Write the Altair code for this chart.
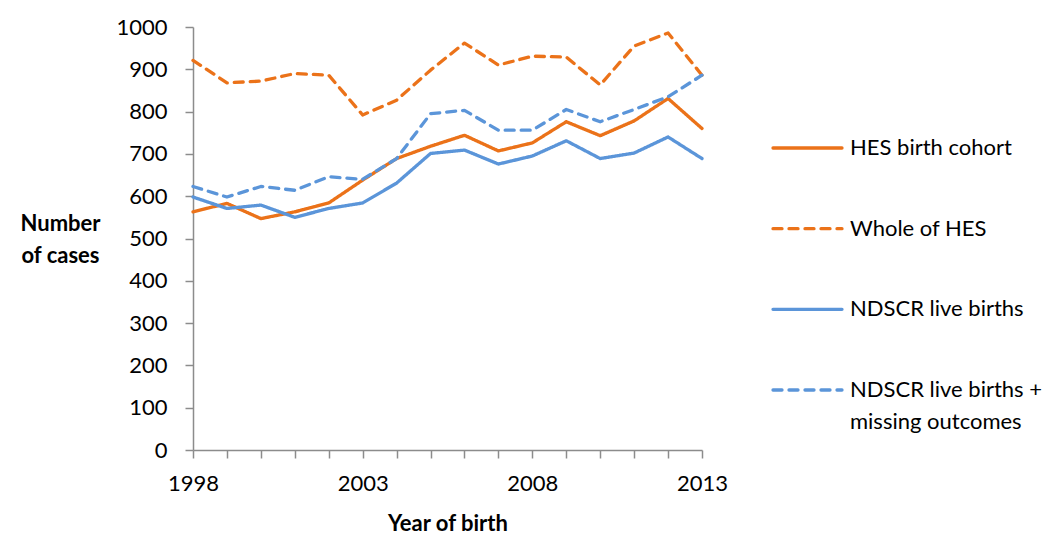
import altair as alt
import pandas as pd

# Annual case counts by year of birth, four data sources
years = list(range(1998, 2014))
hes_birth_cohort = [563, 583, 547, 563, 584, 638, 689, 718, 744, 707, 726, 776, 743, 778, 831, 760]
whole_of_hes = [921, 868, 872, 890, 886, 792, 827, 898, 962, 910, 931, 929, 863, 955, 986, 886]
ndscr_live = [598, 571, 579, 550, 571, 584, 631, 701, 709, 676, 695, 731, 689, 702, 740, 689]
ndscr_live_missing = [623, 598, 623, 614, 646, 640, 689, 795, 803, 756, 756, 805, 776, 805, 835, 886]

series_names = [
    "HES birth cohort",
    "Whole of HES",
    "NDSCR live births",
    "NDSCR live births + missing outcomes",
]
series_line1 = ["HES birth cohort", "Whole of HES", "NDSCR live births", "NDSCR live births +"]
series_line2 = ["", "", "", "missing outcomes"]
series_colors = ["#EB7219", "#EB7219", "#5B95D9", "#5B95D9"]
series_dashes = [[1, 0], [9, 7], [1, 0], [9, 7]]

y_ticks = list(range(0, 1001, 100))

FONT = "Lato"
FONT_SIZE = 22
AXIS_GREY = "#8C8C8C"

rows = []
for name, vals in zip(series_names, [hes_birth_cohort, whole_of_hes, ndscr_live, ndscr_live_missing]):
    for yr, v in zip(years, vals):
        rows.append({"year": yr, "cases": v, "series": name})
df = pd.DataFrame(rows)

legend_df = pd.DataFrame({"series": series_names, "line1": series_line1, "line2": series_line2})

color_scale = alt.Scale(domain=series_names, range=series_colors)
dash_scale = alt.Scale(domain=series_names, range=series_dashes)

lines = alt.Chart(df).mark_line(strokeWidth=3.3, strokeCap="round", strokeJoin="round").encode(
    x=alt.X(
        "year:Q",
        scale=alt.Scale(domain=[1998, 2013], nice=False, zero=False),
        axis=alt.Axis(
            values=years,
            labelExpr="(datum.value - 1998) % 5 == 0 ? datum.label : ''",
            format="d",
            labelFlush=False,
            labelOverlap=False,
            title="Year of birth",
            titleFontWeight="bold",
            titleY=73,
            titleBaseline="middle",
            labelPadding=15,
            tickSize=8,
            grid=False,
        ),
    ),
    y=alt.Y(
        "cases:Q",
        scale=alt.Scale(domain=[0, 1000], nice=False),
        axis=alt.Axis(
            values=y_ticks,
            format="d",
            title=["Number", "of cases"],
            titleAngle=0,
            titleFontWeight="bold",
            titleAlign="center",
            titleBaseline="top",
            titleX=-133,
            titleY=186,
            titleLineHeight=32,
            labelPadding=18,
            tickSize=8,
            grid=False,
        ),
    ),
    color=alt.Color("series:N", scale=color_scale, legend=None),
    strokeDash=alt.StrokeDash("series:N", scale=dash_scale, legend=None),
    order=alt.Order("series_order:Q"),
).transform_calculate(
    series_order="indexof(" + str(series_names).replace("'", '"') + ", datum.series)"
)

# Legend drawn beside the plot: one short line sample plus label per series
legend_y = alt.Y(
    "series:N",
    scale=alt.Scale(type="point", domain=series_names, range=[121, 363], padding=0),
    axis=None,
)

legend_lines = alt.Chart(legend_df).mark_rule(strokeWidth=3.3, strokeCap="round").encode(
    x=alt.value(580),
    x2=alt.value(649),
    y=legend_y,
    color=alt.Color("series:N", scale=color_scale, legend=None),
    strokeDash=alt.StrokeDash("series:N", scale=dash_scale, legend=None),
)

legend_text1 = alt.Chart(legend_df).mark_text(
    align="left", baseline="middle", font=FONT, fontSize=FONT_SIZE, color="#000000"
).encode(x=alt.value(657), y=legend_y, text="line1:N")

legend_text2 = alt.Chart(legend_df).mark_text(
    align="left", baseline="middle", font=FONT, fontSize=FONT_SIZE, color="#000000", dy=32
).encode(x=alt.value(657), y=legend_y, text="line2:N")

chart = (
    alt.layer(lines, legend_lines, legend_text1, legend_text2)
    .resolve_scale(y="independent")
    .properties(
        width=509,
        height=423,
        autosize=alt.AutoSizeParams(type="none"),
        padding={"left": 193, "top": 27, "right": 355, "bottom": 84},
        background="#FFFFFF",
    )
    .configure_view(stroke=None)
    .configure_axis(
        domainColor=AXIS_GREY,
        domainWidth=1.5,
        tickColor=AXIS_GREY,
        tickWidth=1.5,
        labelFont=FONT,
        labelFontSize=FONT_SIZE,
        labelColor="#000000",
        titleFont=FONT,
        titleFontSize=FONT_SIZE,
        titleColor="#000000",
    )
)

chart.save("out.html", embed_options={"renderer": "svg", "actions": False})
